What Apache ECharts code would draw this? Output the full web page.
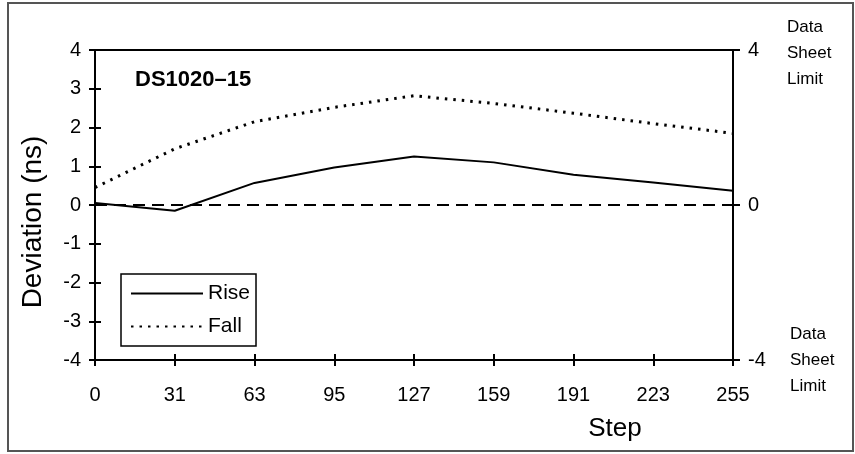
<!DOCTYPE html>
<html>
<head>
<meta charset="utf-8">
<script src="https://cdn.jsdelivr.net/npm/echarts@6/dist/echarts.min.js"></script>
<style>html,body{margin:0;padding:0;background:#fff;}#c{width:855px;height:454px;}</style>
</head>
<body>
<div id="c"></div>
<script>
var steps = ['0','31','63','95','127','159','191','223','255'];
var rise = [0.05,-0.15,0.57,0.97,1.25,1.1,0.78,0.58,0.37];
var fall = [0.45,1.45,2.15,2.52,2.82,2.62,2.37,2.1,1.85];
var limitTicks = [-4, 0, 4];

var F = 'Liberation Sans, Arial, sans-serif';
var chart = echarts.init(document.getElementById('c'));
chart.setOption({
  animation: false,
  backgroundColor: '#fff',
  grid: {left: 95, right: 122, top: 50, bottom: 94, show: true, borderColor: '#000', borderWidth: 2, backgroundColor: 'transparent'},
  legend: {
    orient: 'vertical', left: 121, top: 274,
    data: ['Rise', 'Fall'],
    itemWidth: 72, itemHeight: 14, itemGap: 12,
    padding: [9, 6, 9, 9],
    borderColor: '#000', borderWidth: 1.5,
    itemStyle: {opacity: 0},
    textStyle: {fontFamily: F, fontSize: 21, color: '#000'}
  },
  xAxis: [{
    type: 'category', data: steps, boundaryGap: false,
    axisLine: {onZero: false, lineStyle: {color: '#000', width: 2}},
    axisTick: {show: true, length: 6, alignWithLabel: true, lineStyle: {color: '#000', width: 2}},
    axisLabel: {fontFamily: F, fontSize: 20, color: '#000', margin: 25},
    splitLine: {show: false}
  }, {
    type: 'category', data: steps, boundaryGap: false, position: 'bottom',
    axisLine: {show: false, onZero: false},
    axisTick: {show: true, inside: true, length: 6, lineStyle: {color: '#000', width: 2}},
    axisLabel: {show: false}, splitLine: {show: false}
  }],
  yAxis: [{
    type: 'value', min: -4, max: 4, interval: 1, position: 'left',
    axisLine: {show: true, onZero: false, lineStyle: {color: '#000', width: 2}},
    axisTick: {show: true, length: 6, lineStyle: {color: '#000', width: 2}},
    axisLabel: {fontFamily: F, fontSize: 20, color: '#000', margin: 14},
    splitLine: {show: false}
  }, {
    type: 'value', min: limitTicks[0], max: limitTicks[2], interval: 4, position: 'right',
    axisLine: {show: true, onZero: false, lineStyle: {color: '#000', width: 2}},
    axisTick: {show: true, length: 7, lineStyle: {color: '#000', width: 2}},
    axisLabel: {fontFamily: F, fontSize: 20, color: '#000', margin: 15},
    splitLine: {show: false}
  }, {
    type: 'value', min: -4, max: 4, interval: 1, position: 'left',
    axisLine: {show: false, onZero: false},
    axisTick: {show: true, inside: true, length: 6, lineStyle: {color: '#000', width: 2}},
    axisLabel: {show: false}, splitLine: {show: false}
  }, {
    type: 'value', min: -4, max: 4, interval: 4, position: 'right',
    axisLine: {show: false, onZero: false},
    axisTick: {show: true, inside: true, length: 6, lineStyle: {color: '#000', width: 2}},
    axisLabel: {show: false}, splitLine: {show: false}
  }],
  series: [{
    name: 'Rise', type: 'line', data: rise, xAxisIndex: 0, yAxisIndex: 0,
    symbol: 'none', color: '#000',
    lineStyle: {color: '#000', width: 2},
    markLine: {
      silent: true, symbol: 'none', label: {show: false},
      lineStyle: {color: '#000', width: 1.8, type: [12, 7]},
      data: [{yAxis: limitTicks[1]}]
    }
  }, {
    name: 'Fall', type: 'line', data: fall, xAxisIndex: 0, yAxisIndex: 0,
    symbol: 'none', color: '#000',
    lineStyle: {color: '#000', width: 3, type: [2.5, 6]}
  }],
  graphic: [
    {type: 'rect', shape: {x: 8, y: 3, width: 845, height: 448}, style: {fill: 'none', stroke: '#555', lineWidth: 2}, silent: true},
    {type: 'text', x: 135, y: 80, style: {text: 'DS1020–15', font: 'bold 22px ' + F, fill: '#000', textVerticalAlign: 'middle'}},
    {type: 'text', x: 33, y: 222, rotation: Math.PI / 2, style: {text: 'Deviation (ns)', font: '28px ' + F, fill: '#000', textAlign: 'center', textVerticalAlign: 'middle'}},
    {type: 'text', x: 615, y: 429, style: {text: 'Step', font: '26px ' + F, fill: '#000', textAlign: 'center', textVerticalAlign: 'middle'}},
    {type: 'text', x: 787, y: 14, style: {text: 'Data\nSheet\nLimit', font: '17px ' + F, lineHeight: 26, fill: '#000'}},
    {type: 'text', x: 790, y: 321, style: {text: 'Data\nSheet\nLimit', font: '17px ' + F, lineHeight: 26, fill: '#000'}}
  ]
});
</script>
</body>
</html>
